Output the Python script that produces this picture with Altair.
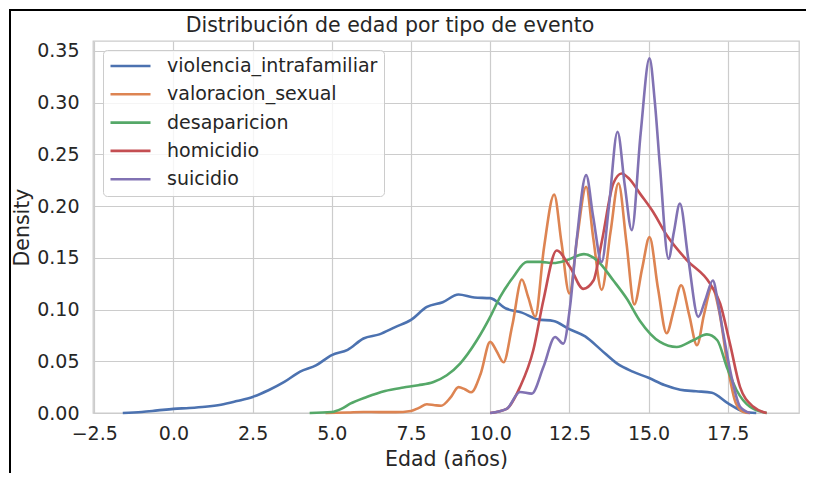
import altair as alt
import pandas as pd

series_names = ["violencia_intrafamiliar", "valoracion_sexual", "desaparicion", "homicidio", "suicidio"]
series_colors = ["#4c72b0", "#dd8452", "#55a868", "#c44e52", "#8172b3"]

chart_title = "Distribución de edad por tipo de evento"
x_ticks = [-2.5, 0.0, 2.5, 5.0, 7.5, 10.0, 12.5, 15.0, 17.5]
y_ticks = [0.0, 0.05, 0.10, 0.15, 0.20, 0.25, 0.30, 0.35]

# violencia_intrafamiliar
vif_x = [-1.6, -1.0, -0.5, 0.0, 0.5, 1.0, 1.5, 2.0, 2.5, 3.0, 3.5, 4.0, 4.5, 5.0, 5.5, 6.0, 6.5, 7.0, 7.5,
         8.0, 8.5, 9.0, 9.5, 10.0, 10.5, 11.0, 11.5, 12.0, 12.5, 13.0, 13.5, 14.0, 14.5, 15.0, 15.5, 16.0,
         16.5, 17.0, 17.5, 18.0, 18.4]
vif_y = [0.0, 0.001, 0.0025, 0.004, 0.0048, 0.006, 0.008, 0.0115, 0.0155, 0.022, 0.030, 0.040, 0.046, 0.056,
         0.061, 0.072, 0.076, 0.083, 0.090, 0.1025, 0.107, 0.1145, 0.1116, 0.111, 0.101, 0.097, 0.0905, 0.089,
         0.081, 0.074, 0.061, 0.048, 0.040, 0.034, 0.027, 0.0225, 0.021, 0.0195, 0.0095, 0.0015, 0.0]

# valoracion_sexual
vs_x = [4.8, 5.5, 6.0, 6.5, 7.0, 7.5, 7.75, 8.0, 8.25, 8.45, 8.75, 9.0, 9.2, 9.4, 9.7, 10.0, 10.2, 10.42,
        10.7, 11.0, 11.2, 11.42, 11.7, 12.02, 12.25, 12.5, 12.75, 13.03, 13.25, 13.52, 13.8, 14.05, 14.3,
        14.55, 14.8, 15.03, 15.3, 15.57, 15.8, 16.03, 16.28, 16.53, 16.75, 17.0, 17.25, 17.5, 17.75, 18.0, 18.2]
vs_y = [0.0, 0.0005, 0.001, 0.0008, 0.0008, 0.002, 0.005, 0.0084, 0.0075, 0.007, 0.015, 0.025, 0.023, 0.020,
        0.038, 0.0687, 0.060, 0.049, 0.085, 0.129, 0.112, 0.093, 0.160, 0.211, 0.165, 0.1155, 0.170, 0.2186,
        0.170, 0.119, 0.175, 0.222, 0.165, 0.105, 0.140, 0.170, 0.120, 0.077, 0.100, 0.1235, 0.095, 0.0655,
        0.095, 0.121, 0.095, 0.045, 0.010, 0.001, 0.0]

# desaparicion
des_x = [4.3, 5.0, 5.3, 5.58, 6.1, 6.68, 7.26, 7.73, 8.21, 8.63, 9.05, 9.58, 10.0, 10.31, 10.73, 11.16, 11.58,
         12.0, 12.42, 12.96, 13.37, 13.89, 14.31, 14.73, 15.36, 15.89, 16.41, 16.84, 17.17, 17.47, 17.78,
         18.2, 18.73]
des_y = [0.0, 0.001, 0.004, 0.009, 0.0155, 0.0213, 0.0246, 0.0268, 0.030, 0.0365, 0.0478, 0.0703, 0.0929,
         0.112, 0.1315, 0.146, 0.146, 0.145, 0.1477, 0.1535, 0.1477, 0.128, 0.1106, 0.089, 0.0687, 0.0638,
         0.0703, 0.076, 0.0703, 0.0445, 0.022, 0.006, 0.0]

# homicidio
hom_x = [10.0, 10.52, 10.94, 11.36, 11.68, 12.1, 12.52, 12.94, 13.26, 13.52, 13.89, 14.15, 14.4, 14.73, 15.15,
         15.57, 16.2, 16.94, 17.26, 17.57, 17.89, 18.31, 18.73]
hom_y = [0.0, 0.004, 0.025, 0.0606, 0.109, 0.157, 0.141, 0.120, 0.128, 0.165, 0.222, 0.2315, 0.226, 0.212,
         0.194, 0.172, 0.148, 0.125, 0.1058, 0.067, 0.025, 0.006, 0.0]

# suicidio
sui_x = [10.0, 10.52, 10.94, 11.31, 11.68, 12.05, 12.31, 12.52, 12.73, 13.03, 13.25, 13.52, 13.75, 14.02,
         14.25, 14.47, 14.75, 15.03, 15.2, 15.36, 15.63, 15.8, 15.99, 16.25, 16.57, 16.8, 17.03, 17.2, 17.36,
         17.62, 17.89, 18.2]
sui_y = [0.0, 0.004, 0.0203, 0.0187, 0.0445, 0.0735, 0.067, 0.1025, 0.167, 0.2299, 0.190, 0.146, 0.200,
         0.2718, 0.220, 0.1767, 0.270, 0.3427, 0.300, 0.238, 0.149, 0.175, 0.2025, 0.150, 0.0929, 0.110,
         0.128, 0.105, 0.0768, 0.035, 0.006, 0.0]

series_data = [(vif_x, vif_y), (vs_x, vs_y), (des_x, des_y), (hom_x, hom_y), (sui_x, sui_y)]

FONT = "DejaVu Sans"
TXT = "#262626"
GRID = "#cccccc"

PLOT_W, PLOT_H = 706, 372
PAD_L, PAD_T, PAD_R, PAD_B = 85, 33, 7, 60

x_scale = alt.Scale(domain=[-2.54, 19.75], nice=False, zero=False)
y_scale = alt.Scale(domain=[0, 0.3595], nice=False)
color_scale = alt.Scale(domain=series_names, range=series_colors)

x_axis = alt.Axis(values=x_ticks, format=".1f", title="Edad (años)", grid=True, gridColor=GRID,
                  gridWidth=1.2, domain=False, ticks=False, labelFont=FONT, labelFontSize=19,
                  labelColor=TXT, labelPadding=11, titleFont=FONT, titleFontSize=20.5,
                  titleFontWeight="normal", titleColor=TXT, titlePadding=6, labelFlush=False)
y_axis = alt.Axis(values=y_ticks, format=".2f", title="Density", grid=True, gridColor=GRID,
                  gridWidth=1.2, domain=False, ticks=False, labelFont=FONT, labelFontSize=19,
                  labelColor=TXT, labelPadding=14, titleFont=FONT, titleFontSize=20.5,
                  titleFontWeight="normal", titleColor=TXT, titlePadding=4, labelFlush=False)

legend = alt.Legend(title=None, orient="none", legendX=10, legendY=9, symbolType="stroke",
                    symbolSize=1600, symbolStrokeWidth=2.6, labelFont=FONT, labelFontSize=19,
                    labelColor=TXT, labelOffset=15, clipHeight=20, rowPadding=8.3, padding=6,
                    fillColor="rgba(255,255,255,0.8)", strokeColor=GRID, cornerRadius=4, labelLimit=400)

layers = []
for i, (name, (xs, ys)) in enumerate(zip(series_names, series_data)):
    df = pd.DataFrame({"edad": xs, "densidad": ys, "serie": [name] * len(xs)})
    enc = dict(
        x=alt.X("edad:Q", scale=x_scale, axis=x_axis) if i == 0 else alt.X("edad:Q", scale=x_scale),
        y=alt.Y("densidad:Q", scale=y_scale, axis=y_axis) if i == 0 else alt.Y("densidad:Q", scale=y_scale),
        color=alt.Color("serie:N", scale=color_scale, legend=legend),
    )
    layers.append(alt.Chart(df).mark_line(strokeWidth=2.6, interpolate="monotone").encode(**enc))

frame_df = pd.DataFrame({"a": [0]})
title_text = alt.Chart(frame_df).mark_text(
    text=chart_title, font=FONT, fontSize=20.5, color=TXT, align="center", baseline="alphabetic"
).encode(x=alt.value(297), y=alt.value(-9))
top_rule = alt.Chart(frame_df).mark_rule(color="black", strokeWidth=2).encode(
    x=alt.value(-83), x2=alt.value(PLOT_W + PAD_R), y=alt.value(-31))
left_rule = alt.Chart(frame_df).mark_rule(color="black", strokeWidth=2).encode(
    x=alt.value(-83), y=alt.value(-32), y2=alt.value(PLOT_H + PAD_B))

chart = alt.layer(*layers, title_text, top_rule, left_rule).properties(
    width=PLOT_W, height=PLOT_H,
    autosize=alt.AutoSizeParams(type="none"),
    padding={"left": PAD_L, "top": PAD_T, "right": PAD_R, "bottom": PAD_B},
    background="white",
).configure_view(stroke=GRID, strokeWidth=1.3)

chart.save("out.html", embed_options={"renderer": "svg", "actions": False})
